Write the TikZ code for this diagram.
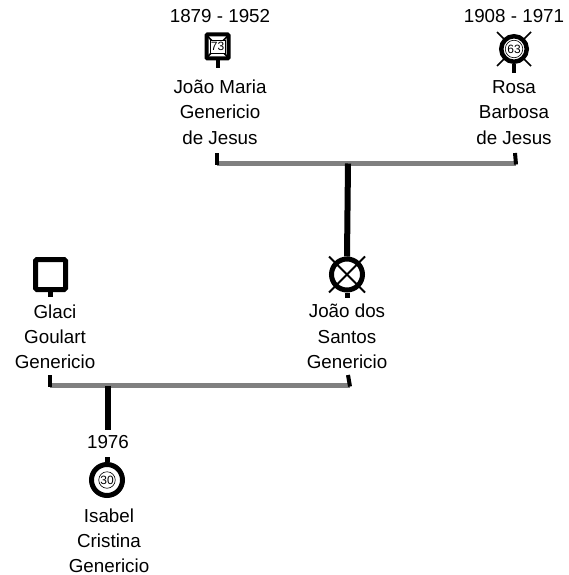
\documentclass[tikz,border=0pt]{standalone}
\usepackage{fontspec}
\setmainfont{Liberation Sans}
\begin{document}
\begin{tikzpicture}[x=1pt,y=-1pt,
  lbl/.style={font=\fontsize{18.8}{22}\selectfont, anchor=base, inner sep=0pt},
  agelbl/.style={font=\fontsize{12}{13}\selectfont, fill=white, draw=black, line width=0.6pt, inner sep=0pt, text height=8.6pt, text depth=0pt},
  male/.style={draw=black, line width=5pt, rectangle, rounded corners=1.5pt, minimum width=30pt, minimum height=30pt, inner sep=0pt},
  female/.style={draw=black, line width=5pt, circle, minimum size=31pt, inner sep=0pt},
  xline/.style={line width=1.6pt},
  stem/.style={line width=5pt},
  bar/.style={draw={rgb,255:red,128;green,128;blue,128}, line width=5pt},
  tick/.style={line width=4pt},
  childline/.style={line width=6pt}]
\useasboundingbox (0,0) rectangle (568,575);

% ---------- generation 1 ----------
\node[lbl] (jmdate) at (220,23) {1879 - 1952};
\node[lbl] (rbdate) at (514,23) {1908 - 1971};

% Joao Maria (deceased male, age 73)
\coordinate (jmc) at (217.5,46.5);
\draw[xline] (206,34.5) -- (229,58.5);
\draw[xline] (229,34.5) -- (206,58.5);
\node[male, line width=4pt, minimum width=22pt, minimum height=24pt, rounded corners=1pt] (jm) at (jmc) {};
\node[agelbl, rectangle, minimum width=15pt, minimum height=13pt] (jmage) at (jmc) {73};
\coordinate (jmstem) at (217.5,68);
\draw[stem, line width=4pt] (jm.south) -- (jmstem);

% Rosa (deceased female, age 63)
\coordinate (rbc) at (514,49);
\draw[xline] (497,32) -- (531,66);
\draw[xline] (531,32) -- (497,66);
\node[female, line width=4.5pt, minimum size=25.5pt, fill=white] (rb) at (rbc) {};
\node[agelbl, circle, minimum size=17.5pt] (rbage) at (rbc) {63};
\coordinate (rbstem) at (514,73);
\draw[stem, line width=4pt] (rb.south) -- (rbstem);

\node[lbl] (jm1) at (220,94) {João Maria};
\node[lbl] (jm2) at (220,119) {Genericio};
\node[lbl] (jm3) at (220,144) {de Jesus};
\node[lbl] (rb1) at (514,94) {Rosa};
\node[lbl] (rb2) at (514,119) {Barbosa};
\node[lbl] (rb3) at (514,144) {de Jesus};

% marriage bar 1
\coordinate (b1l) at (217,163.5);
\coordinate (b1r) at (516,163.5);
\coordinate (b1c) at (348,163.5);
\coordinate (t1l) at (217,153);
\coordinate (t1r) at (515,153);
\draw[bar] (b1l) -- (b1r);
\draw[tick] (t1l) -- ([yshift=-1pt]b1l);
\draw[tick] (t1r) -- ([yshift=-1pt]b1r);

% ---------- generation 2 ----------
% Glaci (male)
\node[male] (gl) at (50.5,274.5) {};
\coordinate (glstem) at (50.5,297);
\draw[stem] (gl.south) -- (glstem);
\node[lbl] (gl1) at (55,318) {Glaci};
\node[lbl] (gl2) at (55,343) {Goulart};
\node[lbl] (gl3) at (55,368) {Genericio};

% Joao dos Santos (deceased)
\coordinate (jsc) at (347,274.5);
\draw[xline, line width=2pt] (329,256.5) -- (365,292.5);
\draw[xline, line width=2pt] (365,256.5) -- (329,292.5);
\node[female] (js) at (jsc) {};
\coordinate (jsstem) at (347,298);
\draw[stem] (js.south) -- (jsstem);
\draw[childline] (b1c) -- (js.north);
\node[lbl] (js1) at (347,317) {João dos};
\node[lbl] (js2) at (347,343) {Santos};
\node[lbl] (js3) at (347,368) {Genericio};

% marriage bar 2
\coordinate (b2l) at (50,385.5);
\coordinate (b2r) at (350,385.5);
\coordinate (b2c) at (107.5,385.5);
\coordinate (t2l) at (50,375);
\coordinate (t2r) at (348,375);
\draw[bar] (b2l) -- (b2r);
\draw[tick] (t2l) -- ([yshift=-1pt]b2l);
\draw[tick] (t2r) -- ([yshift=-1pt]b2r);

% ---------- generation 3 ----------
\coordinate (isend) at (107.5,430);
\draw[childline] (b2c) -- (isend);
\node[lbl] (isdate) at (108,448) {1976};
\node[female] (is) at (107,480) {};
\node[agelbl, circle, minimum size=16.5pt] (isage) at (107,480) {30};
\coordinate (istop) at (107,457);
\draw[stem] (istop) -- (is.north);
\node[lbl] (is1) at (109,522) {Isabel};
\node[lbl] (is2) at (109,547) {Cristina};
\node[lbl] (is3) at (109,572) {Genericio};
\end{tikzpicture}
\end{document}
